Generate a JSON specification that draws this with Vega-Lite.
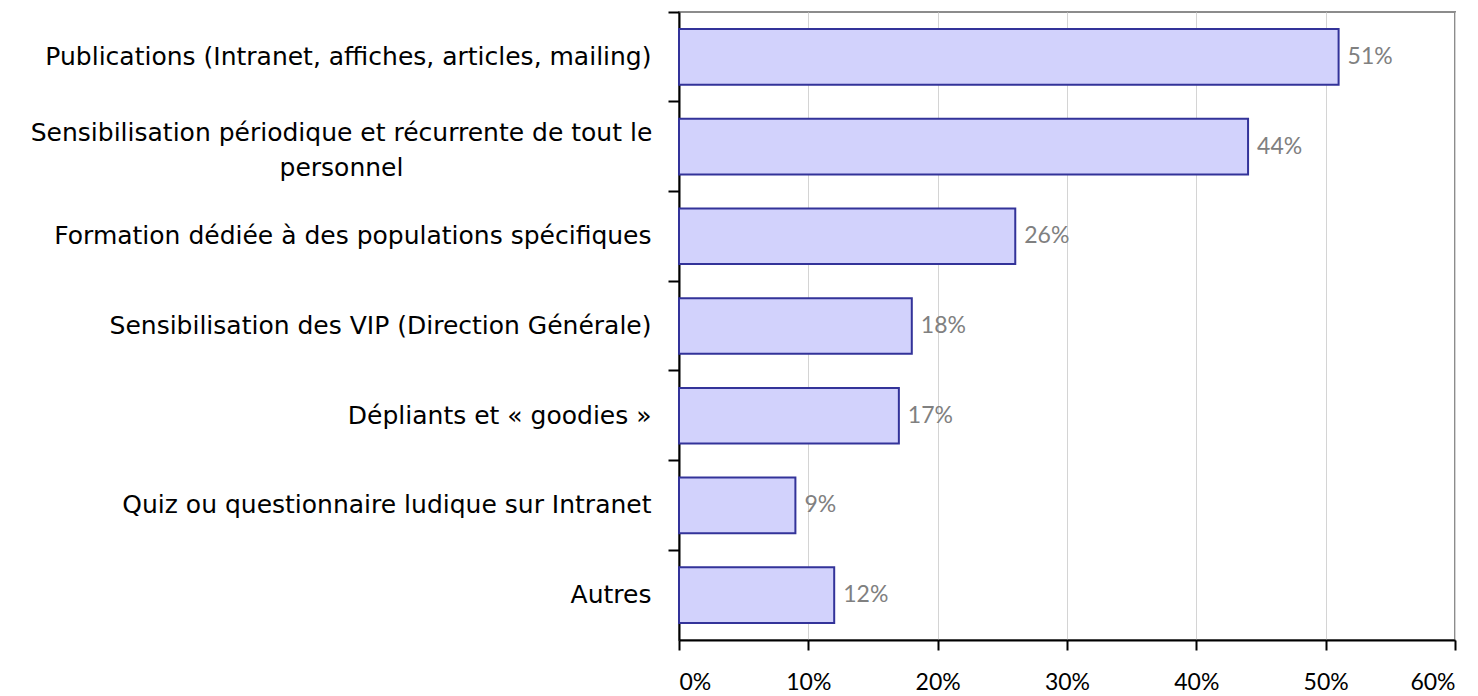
{
  "$schema": "https://vega.github.io/schema/vega-lite/v6.json",
  "autosize": {"type": "none"},
  "width": 776,
  "height": 628,
  "padding": {"left": 679, "top": 12, "right": 23, "bottom": 56},
  "background": "white",
  "config": {
    "view": {"stroke": "#8c8c8c", "strokeWidth": 2},
    "font": "Lato"
  },
  "data": {
    "values": [
      {"label": "Publications (Intranet, affiches, articles, mailing)", "value": 0.51, "txt": "51%"},
      {"label": "Sensibilisation périodique et récurrente de tout le|personnel", "value": 0.44, "txt": "44%"},
      {"label": "Formation dédiée à des populations spécifiques", "value": 0.26, "txt": "26%"},
      {"label": "Sensibilisation des VIP (Direction Générale)", "value": 0.18, "txt": "18%"},
      {"label": "Dépliants et « goodies »", "value": 0.17, "txt": "17%"},
      {"label": "Quiz ou questionnaire ludique sur Intranet", "value": 0.09, "txt": "9%"},
      {"label": "Autres", "value": 0.12, "txt": "12%"}
    ]
  },
  "encoding": {
    "y": {
      "field": "label",
      "type": "nominal",
      "sort": null,
      "scale": {"paddingInner": 0.38, "paddingOuter": 0.19},
      "axis": {
        "title": null,
        "labelExpr": "split(datum.label, '|')",
        "labelFont": "DejaVu Sans",
        "labelFontSize": 25,
        "labelColor": "#000000",
        "labelLineHeight": 35,
        "labelPadding": {"condition": {"test": "indexof(datum.label, '|') >= 0", "value": 327}, "value": 17},
        "labelAlign": {"condition": {"test": "indexof(datum.label, '|') >= 0", "value": "center"}, "value": "right"},
        "labelLimit": 700,
        "labelOffset": {"condition": {"test": "indexof(datum.label, '|') >= 0", "value": -14}, "value": 0},
        "domainColor": "#000000",
        "domainWidth": 2,
        "tickColor": "#000000",
        "tickWidth": 2,
        "tickSize": 11,
        "bandPosition": -0.306
      }
    },
    "x": {
      "field": "value",
      "type": "quantitative",
      "scale": {"domain": [0, 0.6], "nice": false},
      "axis": {
        "title": null,
        "format": ".0%",
        "values": [0, 0.1, 0.2, 0.3, 0.4, 0.5, 0.6],
        "labelFontSize": 23,
        "labelColor": "#000000",
        "labelPadding": 21,
        "domainColor": "#000000",
        "domainWidth": 2,
        "tickColor": "#000000",
        "tickWidth": 2,
        "tickSize": 10,
        "grid": true,
        "gridColor": "#d4d4d4",
        "gridWidth": 1
      }
    }
  },
  "layer": [
    {
      "mark": {"type": "bar", "fill": "#d2d2fc", "stroke": "#333399", "strokeWidth": 2}
    },
    {
      "mark": {"type": "text", "align": "left", "dx": 9, "fontSize": 23, "color": "#808080"},
      "encoding": {"text": {"field": "txt"}}
    }
  ]
}
